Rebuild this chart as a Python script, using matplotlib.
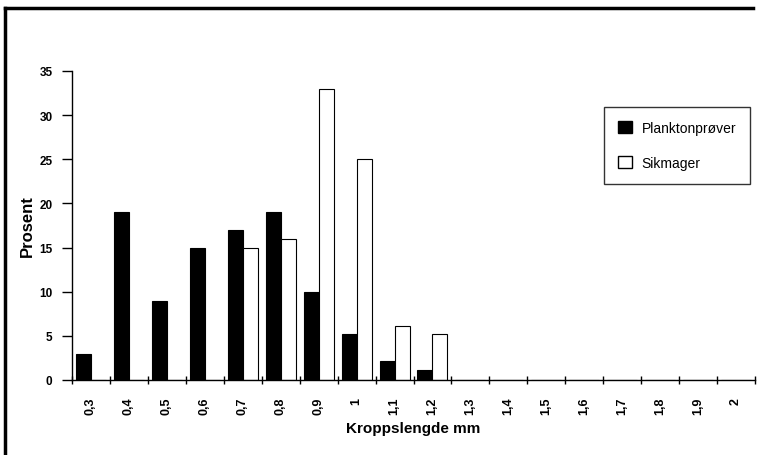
import matplotlib
matplotlib.use("Agg")
import matplotlib.pyplot as plt
from matplotlib.lines import Line2D
from matplotlib.patches import Patch
import numpy as np

categories = ['0,3', '0,4', '0,5', '0,6', '0,7', '0,8', '0,9', '1', '1,1', '1,2',
              '1,3', '1,4', '1,5', '1,6', '1,7', '1,8', '1,9', '2']
plankton = [3, 19, 9, 15, 17, 19, 10, 5.2, 2.2, 1.1, 0, 0, 0, 0, 0, 0, 0, 0]
sikmager = [0, 0, 0, 0, 15, 16, 33, 25, 6.1, 5.2, 0, 0, 0, 0, 0, 0, 0, 0]
series_names = ['Planktonprøver', 'Sikmager']
y_ticks = [0, 5, 10, 15, 20, 25, 30, 35]

plt.rcParams['font.family'] = ['Liberation Sans', 'DejaVu Sans']

fig = plt.figure(figsize=(7.57, 4.56), dpi=100)
ax = fig.add_axes([72/757, 75/456, 683/757, 309/456])

x = np.arange(len(categories))
w = 0.395
ax.bar(x - w/2, plankton, w, color='black', edgecolor='black', linewidth=0.8)
ax.bar(x + w/2, sikmager, w, color='white', edgecolor='black', linewidth=0.8)

ax.set_xlim(-0.5, len(categories) - 0.5)
ax.set_ylim(0, 35)
ax.set_yticks(y_ticks)
ax.set_yticklabels([str(v) for v in y_ticks], fontsize=8.5, fontweight='bold')
ax.set_xticks(x)
ax.set_xticklabels(categories, rotation=90, fontsize=9, fontweight='bold')
ax.set_xticks(np.arange(len(categories) + 1) - 0.5, minor=True)
ax.tick_params(axis='x', which='major', length=0, pad=12)
ax.tick_params(axis='x', which='minor', length=6, direction='inout', width=1)
ax.tick_params(axis='y', which='major', length=7, direction='out', width=1, pad=7)

for s in ['top', 'right']:
    ax.spines[s].set_visible(False)
ax.spines['left'].set_linewidth(1)
ax.spines['bottom'].set_linewidth(1)

ax.set_ylabel('Prosent', fontsize=12, fontweight='bold', labelpad=3)
ax.set_xlabel('Kroppslengde mm', fontsize=11, fontweight='bold', labelpad=5)

handles = [Patch(facecolor='black', edgecolor='black'),
           Patch(facecolor='white', edgecolor='black')]
leg = fig.legend(handles, series_names, loc='upper left',
                 bbox_to_anchor=(604/757, 1 - 108/456), fontsize=10,
                 frameon=True, fancybox=False, edgecolor='black',
                 handlelength=1.0, handleheight=1.0, labelspacing=1.5,
                 borderpad=1.0, handletextpad=0.7, borderaxespad=0)
leg.get_frame().set_linewidth(1)

# outer frame (top and left)
fig.add_artist(Line2D([5/757, 753/757], [1 - 9/456, 1 - 9/456], color='black', linewidth=2.5,
                      transform=fig.transFigure))
fig.add_artist(Line2D([5/757, 5/757], [1 - 9/456, 0], color='black', linewidth=2.5,
                      transform=fig.transFigure))

fig.savefig('out.png', dpi=100)
